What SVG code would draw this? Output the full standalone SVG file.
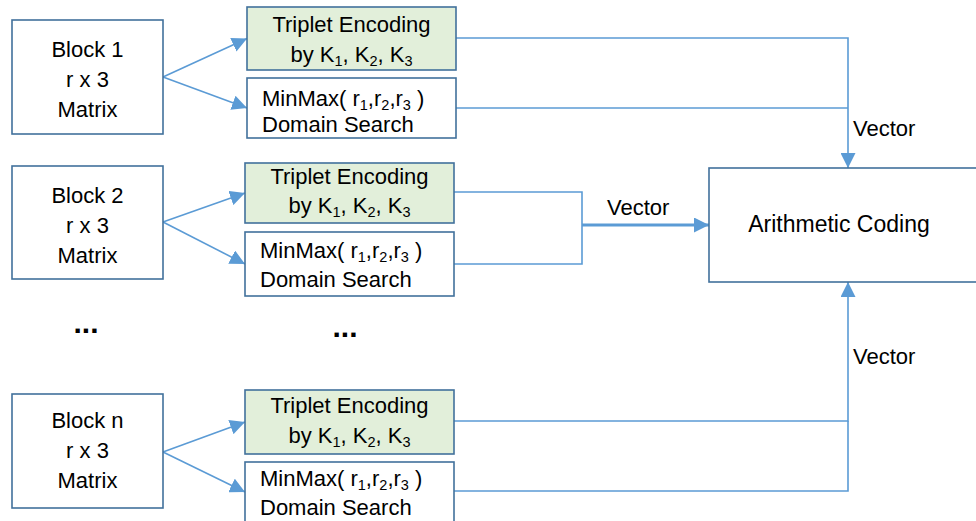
<svg xmlns="http://www.w3.org/2000/svg" width="976" height="521" viewBox="0 0 976 521">
<style>
.box{fill:#FFFFFF;stroke:#41719C;stroke-width:1.6}
.grn{fill:#E2EFDA;stroke:#41719C;stroke-width:1.6}
.t{font-family:"Liberation Sans",Arial,sans-serif;font-size:22px;fill:#000}
.c{text-anchor:middle}
.sub{font-size:14.5px}
.dots{font-family:"Liberation Sans",Arial,sans-serif;font-size:30px;font-weight:bold;fill:#000}
.con{fill:none;stroke:#5B9BD5;stroke-width:1.6}
.thick{stroke-width:3.2}
</style>
<defs>
<marker id="ah" viewBox="0 0 15 15" refX="15" refY="7.5" markerWidth="15" markerHeight="15" markerUnits="userSpaceOnUse" orient="auto">
<path d="M0,0 L15,7.5 L0,15 Z" fill="#5B9BD5"/>
</marker>
</defs>
<rect width="976" height="521" fill="#FFFFFF"/>

<g id="connectors">
<path class="con" d="M163,77 L247,38.5" marker-end="url(#ah)"/>
<path class="con" d="M163,77 L247,108" marker-end="url(#ah)"/>
<path class="con" d="M163,222 L245,193" marker-end="url(#ah)"/>
<path class="con" d="M163,222 L245,264" marker-end="url(#ah)"/>
<path class="con" d="M163,452 L245,422" marker-end="url(#ah)"/>
<path class="con" d="M163,452 L245,492" marker-end="url(#ah)"/>
<path class="con" d="M456,38 H848 V168" marker-end="url(#ah)"/>
<path class="con" d="M456,108 H848"/>
<path class="con" d="M454,192 H582 V264 H454"/>
<path class="con thick" d="M582,225 H709" marker-end="url(#ah)"/>
<path class="con" d="M454,421 H848 V282" marker-end="url(#ah)"/>
<path class="con" d="M454,491 H848 V421"/>
<text class="t" x="853" y="136">Vector</text>
<text class="t" x="607" y="215">Vector</text>
<text class="t" x="853" y="364">Vector</text>
</g>

<g id="block1">
<rect class="box" x="12" y="20" width="151" height="114"/>
<text class="t c" x="87.5" y="57">Block 1</text>
<text class="t c" x="87.5" y="87">r x 3</text>
<text class="t c" x="87.5" y="117">Matrix</text>
</g>
<g id="triplet1">
<rect class="grn" x="247" y="7" width="209" height="63"/>
<text class="t c" x="351.5" y="32">Triplet Encoding</text>
<text class="t c" x="351.5" y="62">by K<tspan class="sub" dy="4">1</tspan><tspan dy="-4">, K</tspan><tspan class="sub" dy="4">2</tspan><tspan dy="-4">, K</tspan><tspan class="sub" dy="4">3</tspan></text>
</g>
<g id="minmax1">
<rect class="box" x="247" y="78" width="209" height="60"/>
<text class="t" x="262" y="106">MinMax( r<tspan class="sub" dy="4">1</tspan><tspan dy="-4">,r</tspan><tspan class="sub" dy="4">2</tspan><tspan dy="-4">,r</tspan><tspan class="sub" dy="4">3</tspan><tspan dy="-4"> )</tspan></text>
<text class="t" x="262" y="132">Domain Search</text>
</g>

<g id="block2">
<rect class="box" x="12" y="166" width="151" height="113"/>
<text class="t c" x="87.5" y="203">Block 2</text>
<text class="t c" x="87.5" y="233">r x 3</text>
<text class="t c" x="87.5" y="263">Matrix</text>
</g>
<g id="triplet2">
<rect class="grn" x="245" y="163" width="209" height="60"/>
<text class="t c" x="349.5" y="184">Triplet Encoding</text>
<text class="t c" x="349.5" y="213">by K<tspan class="sub" dy="4">1</tspan><tspan dy="-4">, K</tspan><tspan class="sub" dy="4">2</tspan><tspan dy="-4">, K</tspan><tspan class="sub" dy="4">3</tspan></text>
</g>
<g id="minmax2">
<rect class="box" x="245" y="232" width="209" height="64"/>
<text class="t" x="260" y="258">MinMax( r<tspan class="sub" dy="4">1</tspan><tspan dy="-4">,r</tspan><tspan class="sub" dy="4">2</tspan><tspan dy="-4">,r</tspan><tspan class="sub" dy="4">3</tspan><tspan dy="-4"> )</tspan></text>
<text class="t" x="260" y="287">Domain Search</text>
</g>

<g id="dots">
<text class="dots c" x="86" y="333">...</text>
<text class="dots c" x="345" y="337">...</text>
</g>

<g id="blockn">
<rect class="box" x="12" y="394" width="151" height="114"/>
<text class="t c" x="87.5" y="428">Block n</text>
<text class="t c" x="87.5" y="458">r x 3</text>
<text class="t c" x="87.5" y="488">Matrix</text>
</g>
<g id="tripletn">
<rect class="grn" x="245" y="390" width="209" height="64"/>
<text class="t c" x="349.5" y="413">Triplet Encoding</text>
<text class="t c" x="349.5" y="443">by K<tspan class="sub" dy="4">1</tspan><tspan dy="-4">, K</tspan><tspan class="sub" dy="4">2</tspan><tspan dy="-4">, K</tspan><tspan class="sub" dy="4">3</tspan></text>
</g>
<g id="minmaxn">
<rect class="box" x="245" y="462" width="209" height="70"/>
<text class="t" x="260" y="486">MinMax( r<tspan class="sub" dy="4">1</tspan><tspan dy="-4">,r</tspan><tspan class="sub" dy="4">2</tspan><tspan dy="-4">,r</tspan><tspan class="sub" dy="4">3</tspan><tspan dy="-4"> )</tspan></text>
<text class="t" x="260" y="515">Domain Search</text>
</g>

<g id="arith">
<rect class="box" x="709" y="168" width="280" height="114"/>
<text class="t c" x="839" y="232" style="font-size:23px">Arithmetic Coding</text>
</g>
</svg>
